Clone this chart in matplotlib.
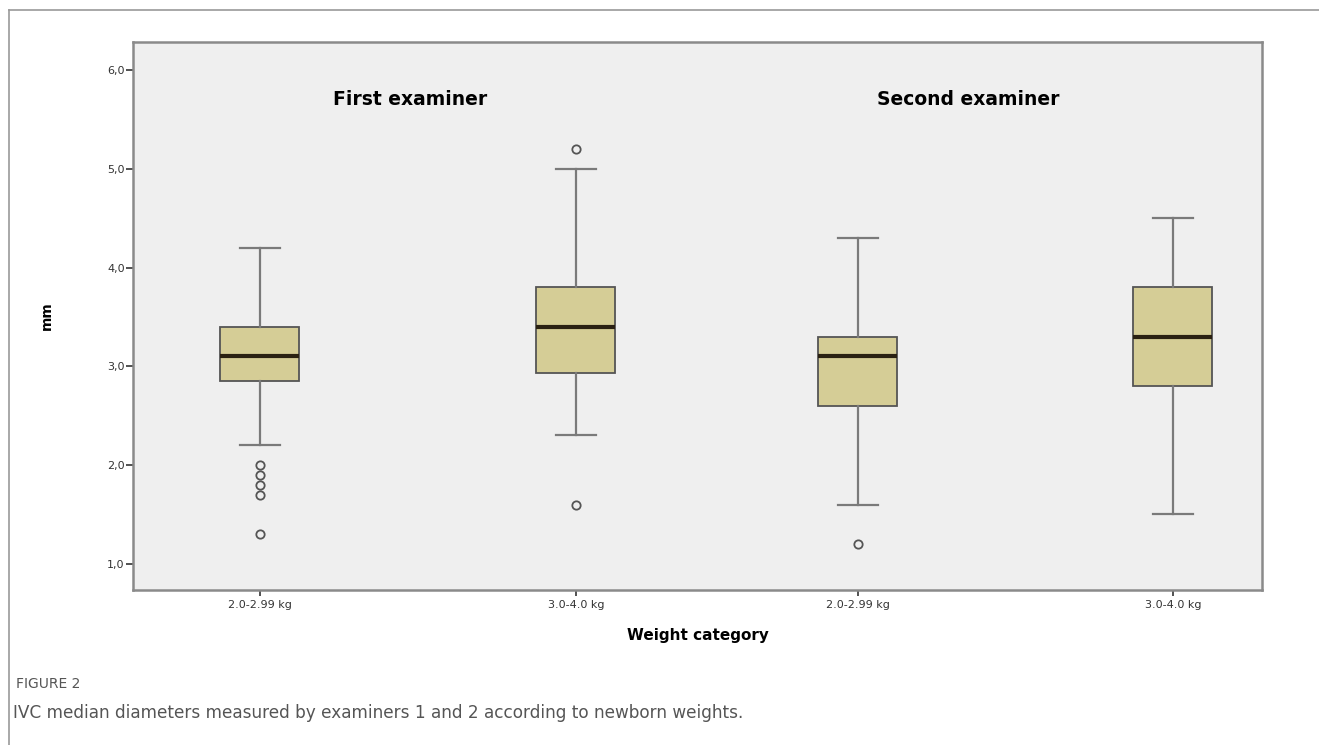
import matplotlib.pyplot as plt
from matplotlib.lines import Line2D

# box statistics (mm)
groups = ['First examiner', 'First examiner', 'Second examiner', 'Second examiner']
categories = ['2.0-2.99 kg', '3.0-4.0 kg', '2.0-2.99 kg', '3.0-4.0 kg']
whislo = [2.2, 2.3, 1.6, 1.5]
q1 = [2.85, 2.93, 2.6, 2.8]
med = [3.1, 3.4, 3.1, 3.3]
q3 = [3.4, 3.8, 3.3, 3.8]
whishi = [4.2, 5.0, 4.3, 4.5]
fliers = [[2.0, 1.9, 1.8, 1.7, 1.3], [5.2, 1.6], [1.2], []]
yticks = [1.0, 2.0, 3.0, 4.0, 5.0, 6.0]

stats = []
for i in range(len(categories)):
    stats.append(dict(whislo=whislo[i], q1=q1[i], med=med[i], q3=q3[i],
                      whishi=whishi[i], fliers=fliers[i], label=categories[i]))

# the two examiner panels are pasted side by side, so the gap is a bit uneven
pos = [0, 1, 1.892, 2.889]

fig = plt.figure(figsize=(13.19, 7.45), dpi=100)
ax = fig.add_axes([0.1008, 0.2081, 0.8560, 0.7355])
ax.set_facecolor('#efefef')

ax.bxp(stats, positions=pos, widths=0.25, patch_artist=True,
       boxprops=dict(facecolor='#d5cd96', edgecolor='#555555', linewidth=1.3),
       medianprops=dict(color='#2a2112', linewidth=3),
       whiskerprops=dict(color='#7a7a7a', linewidth=1.6),
       capprops=dict(color='#7a7a7a', linewidth=1.6),
       capwidths=0.125,
       flierprops=dict(marker='o', markersize=6, markerfacecolor='none',
                       markeredgecolor='#555555', markeredgewidth=1.3))

ax.set_xlim(-0.402, 3.171)
ax.set_ylim(0.735, 6.285)
ax.set_yticks(yticks)
ax.set_yticklabels([('%.1f' % v).replace('.', ',') for v in yticks])
ax.set_xticks(pos)
ax.set_xticklabels(categories)
ax.tick_params(axis='y', labelsize=8, colors='#333333', length=5, width=1.2, pad=1)
ax.tick_params(axis='x', labelsize=8, colors='#333333', length=4, width=1.2, pad=3)
for s in ax.spines.values():
    s.set_color('#8a8a8a')
    s.set_linewidth(1.8)

ax.set_ylabel('mm', fontsize=10, fontweight='bold', labelpad=38)
ax.set_xlabel('Weight category', fontsize=11, fontweight='bold', labelpad=13)

ax.text(0.475, 5.70, groups[0], fontsize=13.5, fontweight='bold', ha='center', va='center')
ax.text(2.24, 5.70, groups[2], fontsize=13.5, fontweight='bold', ha='center', va='center')

# outer frame of the figure panel
fig.add_artist(Line2D([9 / 1319, 1], [1 - 10 / 745, 1 - 10 / 745], color='#999999', lw=1.2))
fig.add_artist(Line2D([9 / 1319, 9 / 1319], [0, 1 - 10 / 745], color='#999999', lw=1.2))

fig.text(16 / 1319, 1 - 684 / 745, 'FIGURE 2', fontsize=10, color='#555555', va='center')
fig.text(13 / 1319, 1 - 713 / 745,
         'IVC median diameters measured by examiners 1 and 2 according to newborn weights.',
         fontsize=12.2, color='#555555', va='center')

plt.savefig('out.png', dpi=100)
